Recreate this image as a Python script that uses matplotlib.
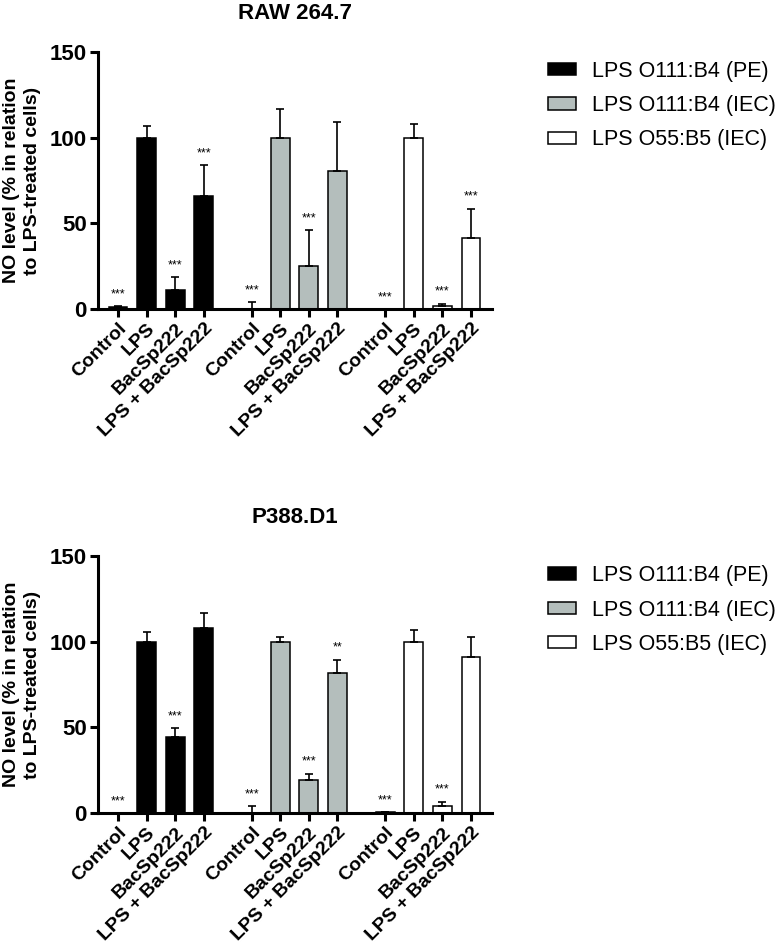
import matplotlib
matplotlib.use("Agg")
import matplotlib.pyplot as plt
import numpy as np

plt.rcParams['font.family'] = ['Liberation Sans', 'DejaVu Sans']

# Datos
categorias = ["Control", "LPS", "BacSp222", "LPS + BacSp222"]
series = ["LPS O111:B4 (PE)", "LPS O111:B4 (IEC)", "LPS O55:B5 (IEC)"]
colores = ["#000000", "#b4bebc", "#ffffff"]

raw_medias = [[1, 100, 11, 66], [0, 100, 25, 80.5], [0, 100, 1.5, 41.5]]
raw_err = [[0.5, 7, 7.7, 18], [4, 16.5, 21, 28.5], [0, 8, 1.5, 17]]
raw_sig = [["***", "", "***", "***"], ["***", "", "***", ""], ["***", "", "***", "***"]]

p388_medias = [[0, 100, 44.4, 108], [0, 100, 19.3, 82], [0.5, 100, 4, 91]]
p388_err = [[0, 5.6, 5.2, 9], [4, 3, 3.7, 7.5], [0, 7, 2.5, 12]]
p388_sig = [["***", "", "***", ""], ["***", "", "***", "**"], ["***", "", "***", ""]]

fig = plt.figure(figsize=(7.8, 9.5), dpi=100)


def graficar(ax, titulo, medias, errores, sig, leg_y):
    paso_grupo = 4.67
    xs_all, labels_all = [], []
    for g, serie in enumerate(series):
        x = np.arange(len(categorias)) + g * paso_grupo
        ax.bar(x, medias[g], width=0.66, color=colores[g], edgecolor="black",
               linewidth=1.1, label=serie, zorder=2)
        ax.errorbar(x, medias[g], yerr=[np.zeros(4), errores[g]], fmt="none",
                    ecolor="black", elinewidth=1.2, capsize=3.2, capthick=1.2, zorder=3)
        for xi, m, e, s in zip(x, medias[g], errores[g], sig[g]):
            if s:
                ax.text(xi, m + e + 3.5, s, ha="center", va="bottom", fontsize=9)
        xs_all.extend(x)
        labels_all.extend(categorias)

    ax.set_xlim(-0.7, xs_all[-1] + 0.73)
    ax.set_ylim(0, 150)
    ax.set_yticks([0, 50, 100, 150])
    ax.set_xticks(xs_all)
    ax.set_xticklabels(labels_all, rotation=45, ha="right", rotation_mode="anchor",
                       fontsize=14, fontweight="bold")
    for lab in ax.get_yticklabels():
        lab.set_fontsize(16)
        lab.set_fontweight("bold")
    ax.spines["top"].set_visible(False)
    ax.spines["right"].set_visible(False)
    ax.spines["left"].set_linewidth(2.2)
    ax.spines["bottom"].set_linewidth(2.2)
    ax.tick_params(axis="both", width=2.2, length=6, pad=2)
    ax.set_ylabel("NO level (% in relation\nto LPS-treated cells)", fontsize=14,
                  fontweight="bold", labelpad=6, linespacing=1.3)
    ax.set_title(titulo, fontsize=16, fontweight="bold", pad=24)
    ax.legend(loc="upper left", bbox_to_anchor=(0.703, leg_y), bbox_transform=fig.transFigure,
              frameon=False, fontsize=15.5, handlelength=1.3, handleheight=0.5,
              handletextpad=0.75, labelspacing=0.62, borderaxespad=0, borderpad=0)


ax1 = fig.add_axes([0.1256, 0.6747, 0.505, 0.2705])
graficar(ax1, "RAW 264.7", raw_medias, raw_err, raw_sig, 0.936)

ax2 = fig.add_axes([0.1256, 0.1442, 0.505, 0.2705])
graficar(ax2, "P388.D1", p388_medias, p388_err, p388_sig, 0.405)

fig.savefig("out.png", dpi=100)
